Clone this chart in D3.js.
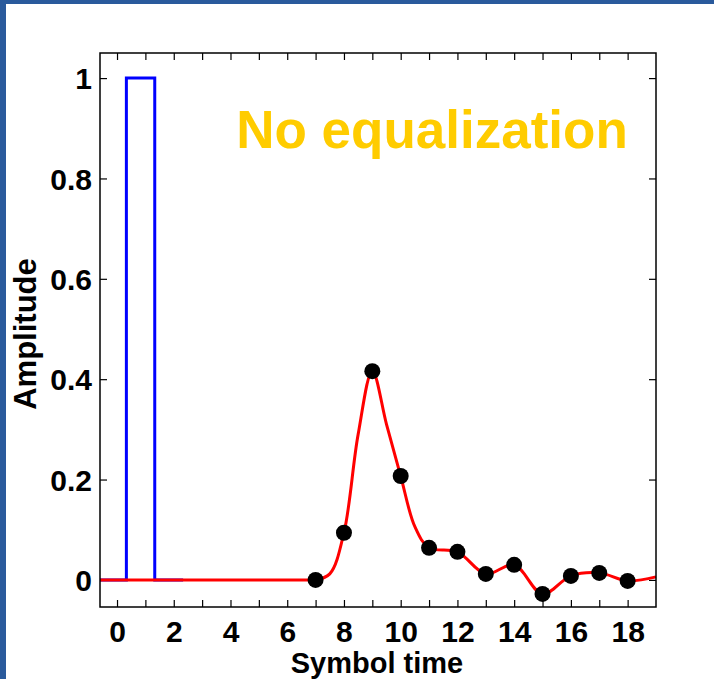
<!DOCTYPE html>
<html><head><meta charset="utf-8">
<script src="https://cdn.jsdelivr.net/npm/d3@7"></script>
<style>html,body{margin:0;padding:0;background:#fff;}svg{display:block;}</style>
</head><body>
<script>
// Data
const symbolTimes = [7, 8, 9, 10, 11, 12, 13, 14, 15, 16, 17, 18];
const sampleValues = [0.0, 0.094, 0.416, 0.207, 0.064, 0.056, 0.012, 0.030, -0.028, 0.008, 0.014, -0.002];
const flatTimes = [-0.6, 7];
const flatValues = [0, 0];
const curveTimes = [7, 7.5, 8, 8.5, 9, 9.5, 10, 10.5, 11, 12, 13, 14, 15, 16, 17, 18, 19];
const curveValues = [0, 0.012, 0.094, 0.29, 0.416, 0.31, 0.207, 0.106, 0.064, 0.056, 0.012, 0.030, -0.028, 0.008, 0.014, -0.002, 0.006];
const pulseTimes = [-0.6, 0.33, 0.33, 1.33, 1.33, 2.33];
const pulseValues = [0, 0, 1, 1, 0, 0];
const xTickValues = [0, 2, 4, 6, 8, 10, 12, 14, 16, 18];
const yTickValues = [0, 0.2, 0.4, 0.6, 0.8, 1];

const W = 714, H = 679;
const svg = d3.select("body").append("svg").attr("width", W).attr("height", H);
svg.append("rect").attr("x",0).attr("y",0).attr("width",W).attr("height",4).attr("fill","#2a5a9c");
svg.append("rect").attr("x",0).attr("y",0).attr("width",6).attr("height",H).attr("fill","#2a5a9c");

const L = 100, R = 656, T = 53, B = 607;
const x = d3.scaleLinear().domain([-0.6, 19]).range([L, R]);
const y = d3.scaleLinear().domain([-0.054, 1.05]).range([B, T]);

const font = "'Liberation Sans', Arial, sans-serif";
const allX = d3.range(0, 19);

const gx = svg.append("g").attr("transform", `translate(0,${B})`)
  .call(d3.axisBottom(x).tickValues(allX).tickSizeInner(-7).tickSizeOuter(0)
    .tickFormat(d => xTickValues.includes(d) ? d : ""));
const gxt = svg.append("g").attr("transform", `translate(0,${T})`)
  .call(d3.axisTop(x).tickValues(allX).tickSizeInner(-7).tickSizeOuter(0).tickFormat(""));
const gy = svg.append("g").attr("transform", `translate(${L},0)`)
  .call(d3.axisLeft(y).tickValues(yTickValues).tickSizeInner(-7).tickSizeOuter(0)
    .tickFormat(d => d === 0 ? "0" : d === 1 ? "1" : d3.format(".1f")(d)));
const gyr = svg.append("g").attr("transform", `translate(${R},0)`)
  .call(d3.axisRight(y).tickValues(yTickValues).tickSizeInner(-7).tickSizeOuter(0).tickFormat(""));

[gx, gxt, gy, gyr].forEach(g => {
  g.select(".domain").remove();
  g.selectAll(".tick line").attr("stroke", "#000").attr("stroke-width", 1.2);
});
gx.selectAll(".tick text").attr("dy", "0").attr("y", 35)
  .attr("font-family", font).attr("font-size", 30).attr("font-weight", "bold").attr("fill","#000");
gy.selectAll(".tick text").attr("x", -8).attr("dy", "0.36em")
  .attr("font-family", font).attr("font-size", 30).attr("font-weight", "bold").attr("fill","#000");

const clip = svg.append("clipPath").attr("id","clip").append("rect")
  .attr("x", L).attr("y", T).attr("width", R - L + 3).attr("height", B - T);

const pulse = pulseTimes.map((t, i) => [t, pulseValues[i]]);
svg.append("path").datum(pulse)
  .attr("d", d3.line().x(d => x(d[0])).y(d => y(d[1])))
  .attr("fill","none").attr("stroke","#0000ff").attr("stroke-width",3);

const flat = flatTimes.map((t, i) => [t, flatValues[i]]);
svg.append("path").datum(flat)
  .attr("d", d3.line().x(d => x(d[0])).y(d => y(d[1])))
  .attr("fill","none").attr("stroke","#ff0000").attr("stroke-width",3);

const curve = curveTimes.map((t, i) => [t, curveValues[i]]);
svg.append("path").datum(curve).attr("clip-path","url(#clip)")
  .attr("d", d3.line().curve(d3.curveCatmullRom.alpha(0.5)).x(d => x(d[0])).y(d => y(d[1])))
  .attr("fill","none").attr("stroke","#ff0000").attr("stroke-width",3);

svg.append("g").selectAll("circle").data(symbolTimes.map((t,i)=>[t, sampleValues[i]]))
  .join("circle").attr("cx", d => x(d[0])).attr("cy", d => y(d[1])).attr("r", 8).attr("fill","#000");

svg.append("rect").attr("x", L).attr("y", T).attr("width", R - L).attr("height", B - T)
  .attr("fill","none").attr("stroke","#000").attr("stroke-width",1.5);

svg.append("text").attr("x", 377).attr("y", 673).attr("text-anchor","middle")
  .attr("font-family", font).attr("font-size", 29).attr("font-weight","bold").text("Symbol time");
svg.append("text").attr("transform", "translate(36,334) rotate(-90)").attr("text-anchor","middle")
  .attr("font-family", font).attr("font-size", 31).attr("font-weight","bold").text("Amplitude");
svg.append("text").attr("x", 432).attr("y", 148).attr("text-anchor","middle")
  .attr("font-family", font).attr("font-size", 53).attr("font-weight","bold").attr("fill","#ffcc00")
  .text("No equalization");
</script>
</body></html>
